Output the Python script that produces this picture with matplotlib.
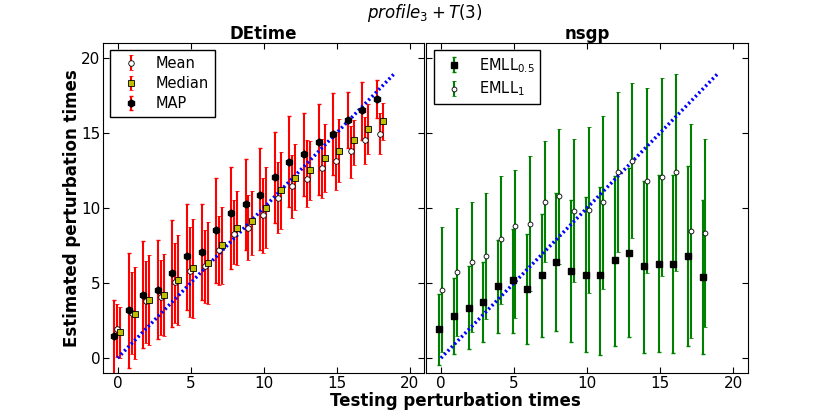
import numpy as np
import matplotlib
matplotlib.use('Agg')
import matplotlib.pyplot as plt

# Testing perturbation times (x positions)
times = list(range(19))

# DEtime estimates, value / lower / upper
map_val = [1.46, 3.18, 4.22, 4.56, 5.64, 6.77, 7.05, 8.51, 9.67, 10.24, 10.88, 12.06, 13.07, 13.59, 14.38, 14.95, 15.88, 16.5, 17.23]
map_lo = [-1.5, -0.68, 0.64, 1.24, 2.08, 3.23, 3.85, 5.0, 5.95, 7.21, 7.17, 9.02, 10.04, 10.82, 10.86, 12.19, 13.98, 14.5, 15.97]
map_hi = [3.9, 7.0, 7.79, 7.88, 9.2, 10.27, 10.27, 12.0, 12.7, 13.25, 14.0, 15.06, 16.12, 16.34, 16.94, 17.67, 17.74, 18.4, 18.49]

mean_val = [1.92, 2.99, 3.8, 4.07, 5.04, 5.77, 6.1, 7.19, 8.25, 8.69, 9.56, 10.68, 11.43, 11.92, 12.63, 13.14, 13.76, 14.54, 14.95]
mean_lo = [0.09, 0.27, 1.02, 1.53, 2.34, 2.74, 3.67, 4.89, 6.28, 6.55, 7.03, 8.34, 9.34, 10.09, 10.64, 11.22, 12.0, 12.92, 13.62]
mean_hi = [3.63, 5.7, 6.44, 6.55, 7.65, 8.76, 8.54, 9.47, 10.53, 10.86, 12.0, 13.03, 13.52, 14.5, 14.58, 15.06, 15.46, 16.07, 16.3]

median_val = [1.72, 2.96, 3.9, 4.18, 5.22, 6.02, 6.32, 7.52, 8.69, 9.16, 10.0, 11.17, 12.01, 12.52, 13.32, 13.8, 14.52, 15.28, 15.79]
median_lo = [0.0, -0.09, 0.9, 1.46, 2.23, 2.7, 3.58, 4.95, 6.21, 6.88, 7.32, 8.6, 9.89, 10.53, 11.03, 11.7, 12.87, 13.62, 14.54]
median_hi = [3.4, 6.06, 6.88, 6.9, 8.2, 9.27, 9.04, 10.04, 11.15, 11.15, 12.74, 13.74, 14.25, 14.47, 15.57, 15.9, 15.86, 16.9, 16.97]

# nsgp estimates
emll05_val = [1.92, 2.81, 3.34, 3.74, 4.78, 5.18, 4.62, 5.51, 6.39, 5.77, 5.55, 5.55, 6.5, 6.99, 6.1, 6.28, 6.28, 6.79, 5.4]
emll05_lo = [-0.46, 0.27, 0.58, 1.04, 1.7, 1.7, 0.93, 1.37, 1.79, 1.04, 0.38, 0.2, 0.82, 1.42, 0.31, 0.38, 0.31, 0.8, 0.25]
emll05_hi = [4.29, 5.35, 6.1, 6.39, 7.83, 8.61, 8.28, 9.6, 10.99, 10.5, 10.7, 11.37, 12.15, 12.66, 11.82, 12.22, 12.22, 12.81, 10.53]

emll1_val = [4.56, 5.73, 6.41, 6.83, 7.9, 8.78, 8.94, 10.42, 10.77, 9.82, 9.87, 10.37, 12.41, 13.14, 11.81, 12.08, 12.36, 8.49, 8.34]
emll1_lo = [0.42, 1.46, 1.75, 2.63, 3.63, 2.7, 4.45, 6.39, 6.28, 5.06, 4.33, 4.62, 7.05, 7.98, 5.66, 5.44, 5.79, 1.31, 2.08]
emll1_hi = [8.76, 10.0, 10.37, 10.99, 12.15, 12.52, 13.43, 14.47, 15.25, 14.58, 15.36, 16.13, 17.74, 18.3, 18.0, 18.62, 18.93, 15.62, 14.58]

# true line
true_x = [0, 19]
true_y = [0, 19]


def err(val, lo, hi):
    val = np.array(val)
    return [val - np.array(lo), np.array(hi) - val]


def style_axes(ax):
    ax.set_xlim(-1, 21)
    ax.set_ylim(-1, 21)
    ax.set_xticks([0, 5, 10, 15, 20])
    ax.set_yticks([0, 5, 10, 15, 20])
    ax.tick_params(direction='in', top=True, right=True, labelsize=11, length=4, pad=2)


def light_caps(e, c):
    for cap in e[1]:
        cap.set_color(c)


fig = plt.figure(figsize=(8.3, 4.15), dpi=100)
fig.subplots_adjust(left=0.124, right=0.901, bottom=0.101, top=0.897, wspace=0.006)
ax1 = fig.add_subplot(1, 2, 1)
ax2 = fig.add_subplot(1, 2, 2, sharey=ax1)

x = np.array(times)

# Left: DEtime
e = ax1.errorbar(x - 0.04, mean_val, yerr=err(mean_val, mean_lo, mean_hi), fmt='o', color='red',
                 mfc='white', mec='black', ms=4, mew=0.6, elinewidth=1.5, capsize=1.5, label='Mean')
light_caps(e, '#ff9090')
e = ax1.errorbar(x + 0.17, median_val, yerr=err(median_val, median_lo, median_hi), fmt='s', color='red',
                 mfc='#bfbf00', mec='black', ms=4.5, mew=0.6, elinewidth=1.5, capsize=1.5, label='Median')
light_caps(e, '#ff9090')
e = ax1.errorbar(x - 0.24, map_val, yerr=err(map_val, map_lo, map_hi), fmt='h', color='red',
                 mfc='black', mec='black', ms=5, elinewidth=1.5, capsize=1.5, label='MAP')
light_caps(e, '#ff9090')
ax1.plot(true_x, true_y, color='blue', lw=2.5, dashes=(0.6, 0.8))
ax1.set_title('DEtime', fontsize=12, fontweight='bold', pad=3)
ax1.set_ylabel('Estimated perturbation times', fontsize=12, fontweight='bold', labelpad=0)
style_axes(ax1)
leg = ax1.legend(loc='upper left', numpoints=1, fancybox=False, fontsize=10.5, handletextpad=0.7,
                 labelspacing=0.35, borderaxespad=0.5, framealpha=1)
leg.get_frame().set_edgecolor('black')

# Right: nsgp
e = ax2.errorbar(x - 0.1, emll05_val, yerr=err(emll05_val, emll05_lo, emll05_hi), fmt='s', color='green',
                 mfc='black', mec='black', ms=4, elinewidth=1.5, capsize=1.5, label='EMLL$_{0.5}$')
light_caps(e, '#90d090')
e = ax2.errorbar(x + 0.1, emll1_val, yerr=err(emll1_val, emll1_lo, emll1_hi), fmt='o', color='green',
                 mfc='white', mec='black', ms=3.5, mew=0.6, elinewidth=1.5, capsize=1.5, label='EMLL$_1$')
light_caps(e, '#90d090')
ax2.plot(true_x, true_y, color='blue', lw=2.5, dashes=(0.6, 0.8))
ax2.set_title('nsgp', fontsize=12, fontweight='bold', pad=3)
style_axes(ax2)
plt.setp(ax2.get_yticklabels(), visible=False)
leg = ax2.legend(loc='upper left', numpoints=1, fancybox=False, fontsize=10.5, handletextpad=0.7,
                 labelspacing=0.35, borderaxespad=0.5, framealpha=1)
leg.get_frame().set_edgecolor('black')

fig.text(455 / 830, 0.033, 'Testing perturbation times', ha='center', va='center', fontsize=12, fontweight='bold')
fig.text(425 / 830, 0.968, '$profile_3+T(3)$', ha='center', va='center', fontsize=12)

fig.savefig('out.png', dpi=100)
